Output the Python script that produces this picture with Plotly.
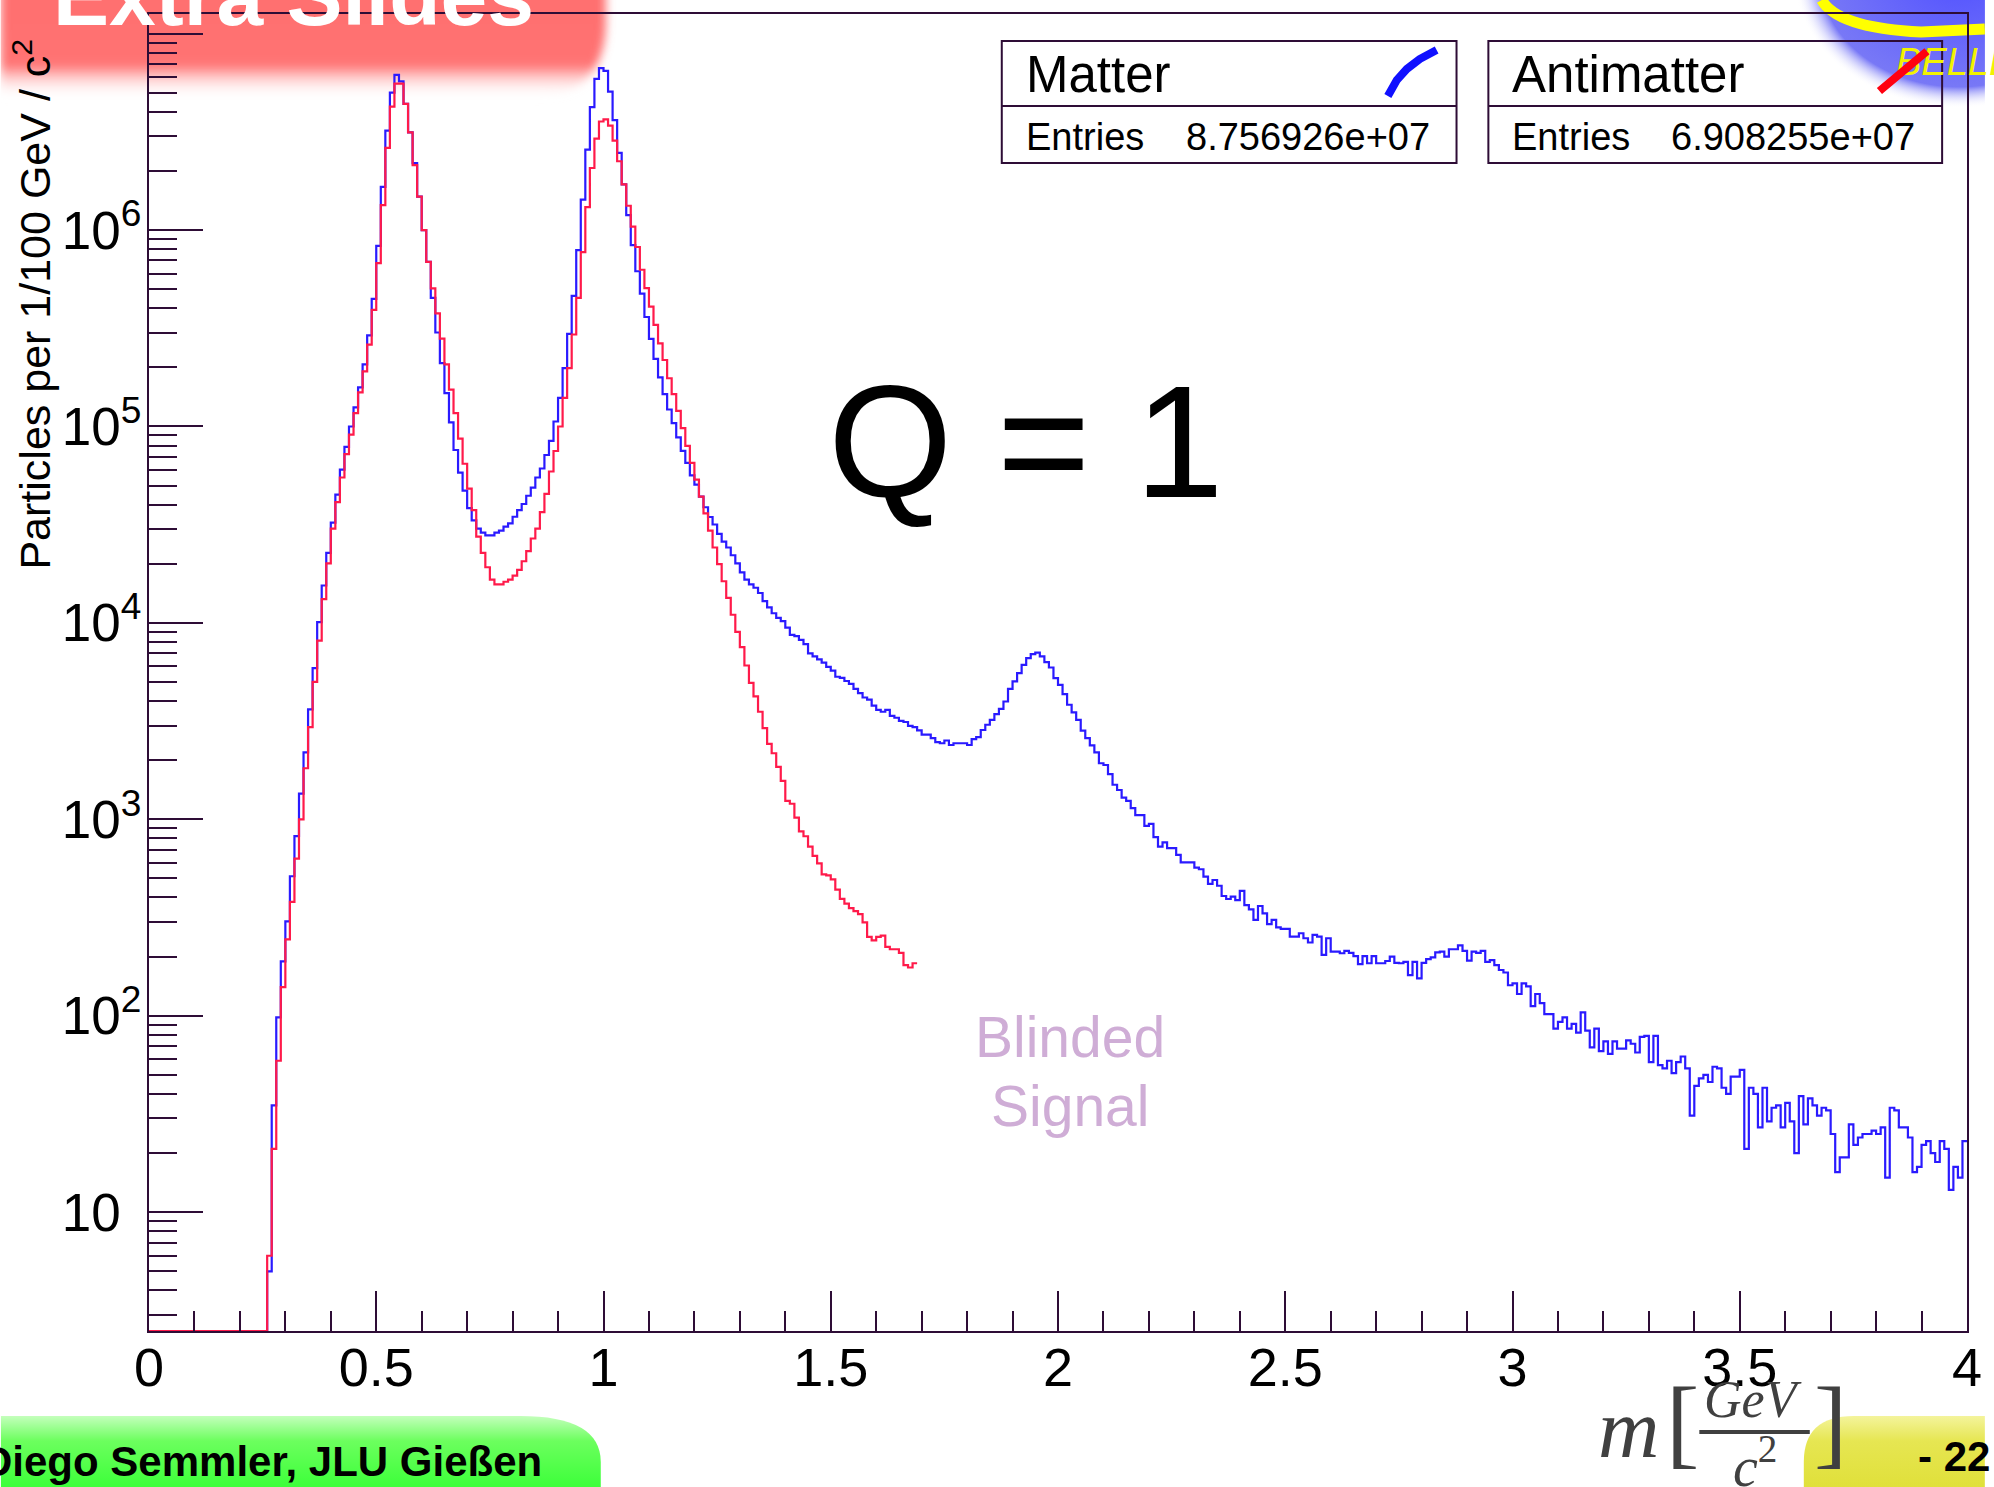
import base64
import math
import plotly.graph_objects as go

# ---------------- data ----------------
BIN_WIDTH = 0.01
X_MIN, X_MAX = 0.0, 4.0
FIRST_BIN = 0.26          # first bin with entries (both histograms)

# Matter (blue), counts per 0.01 GeV bin, bins starting at 0.26 ... 3.99
matter_counts = [
    5, 35, 98, 189,
    302, 513, 822, 1350, 2190, 3630, 5890, 10100, 15500, 22700,
    32400, 45000, 60300, 78700, 100000, 125000, 158000, 207000, 291000, 446000,
    830000, 1660000, 3210000, 5010000, 6170000, 5710000, 4390000, 3140000, 2190000, 1480000,
    1000000, 689000, 452000, 301000, 210000, 148000, 105000, 75900, 58200, 47200,
    38400, 33300, 30200, 28800, 27900, 27900, 28800, 29500, 30900, 32100,
    34700, 37500, 40300, 44400, 48800, 55000, 61100, 71600, 84500, 106000,
    140000, 198000, 296000, 462000, 791000, 1430000, 2570000, 4230000, 5890000, 6680000,
    6460000, 5070000, 3630000, 2470000, 1710000, 1190000, 839000, 617000, 475000, 361000,
    279000, 221000, 178000, 146000, 122000, 104000, 88100, 75200, 65200, 56400,
    50600, 43900, 38800, 34600, 31700, 28400, 25900, 24200, 22100, 20100,
    18100, 16600, 15700, 15100, 14200, 12900, 12000, 11200, 10600, 10200,
    9460, 8690, 8570, 8200, 7800, 7000, 6750, 6520, 6280, 5970,
    5710, 5320, 5250, 5060, 4890, 4610, 4390, 4170, 4070, 3790,
    3610, 3530, 3610, 3360, 3290, 3170, 3130, 2990, 2950, 2840,
    2700, 2700, 2590, 2470, 2440, 2520, 2390, 2440, 2440, 2440,
    2390, 2560, 2620, 2850, 3030, 3210, 3430, 3650, 3980, 4610,
    5040, 5550, 6120, 6610, 6930, 7060, 6750, 6310, 5930, 5240,
    4840, 4340, 3830, 3500, 3210, 2830, 2590, 2380, 2190, 1930,
    1890, 1700, 1500, 1410, 1290, 1240, 1140, 1050, 1050, 925,
    948, 811, 726, 764, 713, 713, 659, 604, 604, 604,
    568, 557, 511, 469, 491, 459, 407, 393, 404, 388,
    432, 366, 348, 308, 362, 332, 293, 308, 282, 277,
    277, 253, 253, 263, 248, 236, 258, 253, 204, 248,
    212, 212, 208, 214, 209, 201, 183, 201, 185, 201,
    185, 185, 190, 200, 186, 185, 188, 161, 188, 155,
    186, 194, 198, 210, 212, 200, 218, 218, 228, 214,
    191, 212, 209, 214, 188, 192, 181, 171, 166, 143,
    146, 129, 146, 141, 112, 129, 116, 102, 102, 86,
    93, 98, 86, 91, 82, 104, 84, 69, 86, 66,
    74, 64, 74, 68, 68, 75, 72, 65, 78, 79,
    58, 79, 56, 54, 59, 51, 58, 62, 54, 31,
    44, 48, 50, 46, 55, 54, 43, 40, 49, 49,
    53, 21, 43, 40, 27, 43, 29, 34, 35, 27,
    36, 29, 20, 39, 28, 38, 35, 31, 34, 33,
    25, 16, 19, 19, 28, 22, 24, 25, 25, 26,
    25, 27, 15, 34, 33, 27, 27, 24, 16, 17,
    22, 23, 20, 18, 23, 21, 13, 17, 15, 23,
]

# Antimatter (red), bins starting at 0.26 ... 1.68 (blinded above)
antimatter_counts = [
    6, 21, 59, 140,
    245, 380, 631, 1000, 1820, 2950, 5010, 8130, 13200, 20100,
    30200, 41200, 55000, 72300, 90800, 117000, 149000, 191000, 261000, 392000,
    679000, 1340000, 2620000, 4250000, 5570000, 5570000, 4390000, 3140000, 2140000, 1480000,
    1000000, 689000, 505000, 377000, 280000, 207000, 154000, 117000, 86700, 64600,
    48300, 37500, 27500, 22700, 19200, 16600, 15700, 15700, 16200, 16600,
    17400, 18600, 20600, 23200, 26900, 30200, 36600, 45400, 59000, 75000,
    100000, 140000, 198000, 294000, 452000, 773000, 1310000, 2070000, 2920000, 3570000,
    3660000, 3400000, 2850000, 2240000, 1710000, 1330000, 1040000, 820000, 628000, 506000,
    408000, 329000, 265000, 218000, 176000, 146000, 120000, 98200, 79600, 65200,
    53600, 43900, 36100, 29500, 24200, 19900, 16300, 13400, 11000, 9000,
    7520, 6070, 4950, 4230, 3530, 2910, 2420, 2170, 1850, 1570,
    1240, 1200, 1020, 869, 820, 726, 652, 597, 525, 518,
    495, 439, 394, 372, 353, 341, 329, 299, 252, 242,
    252, 256, 224, 218, 218, 209, 181, 176, 185,
]

assert len(matter_counts) == 374, len(matter_counts)
assert len(antimatter_counts) == 143, len(antimatter_counts)

series_names = ["Matter", "Antimatter"]
entries_text = ["8.756926e+07", "6.908255e+07"]

x_tick_vals = [0, 0.5, 1, 1.5, 2, 2.5, 3, 3.5, 4]
x_tick_text = ["0", "0.5", "1", "1.5", "2", "2.5", "3", "3.5", "4"]
y_tick_vals = [10, 100, 1e3, 1e4, 1e5, 1e6, 1e7]
y_tick_text = ["10<sup>\u2007</sup>", "10<sup>2</sup>", "10<sup>3</sup>", "10<sup>4</sup>",
               "10<sup>5</sup>", "10<sup>6</sup>", "10<sup>7</sup>"]
Y_LOG_RANGE = [0.395, 7.1]

# ---------------- styling ----------------
FIG_W, FIG_H = 1994, 1487
M_L, M_R, M_T, M_B = 149, 18, 14, 156
PW = FIG_W - M_L - M_R
PH = FIG_H - M_T - M_B
AX = "#2e0d36"
BLUE = "#2a1aff"
RED = "#ff1a4a"
SANS = "Liberation Sans, Arial, sans-serif"
SERIF = "Liberation Serif, Times New Roman, serif"


def xp(px):
    return (px - M_L) / PW


def yp(py):
    return (FIG_H - M_B - py) / PH


def hist_steps(counts, first_bin, floor):
    n_lead = int(round((first_bin - X_MIN) / BIN_WIDTH))
    vals = [0] * n_lead + list(counts)
    edges = [round(X_MIN + i * BIN_WIDTH, 4) for i in range(len(vals) + 1)]
    ys = [max(v, floor) for v in vals]
    ys.append(ys[-1])
    return edges, ys


floor = 10 ** Y_LOG_RANGE[0]
mx, my = hist_steps(matter_counts, FIRST_BIN, floor)
ax_, ay_ = hist_steps(antimatter_counts, FIRST_BIN, floor)

fig = go.Figure()
fig.add_trace(go.Scatter(x=mx, y=my, mode="lines", name=series_names[0],
                         line=dict(color=BLUE, width=2.2, shape="hv"), hoverinfo="skip"))
fig.add_trace(go.Scatter(x=ax_, y=ay_, mode="lines", name=series_names[1],
                         line=dict(color=RED, width=2.2, shape="hv"), hoverinfo="skip"))

minor_y = [k * 10 ** n for n in range(0, 8) for k in range(2, 10)
           if Y_LOG_RANGE[0] < math.log10(k * 10 ** n) < Y_LOG_RANGE[1]]

# ---------------- background decorations (banners, logo) ----------------
svg = f'''<svg xmlns="http://www.w3.org/2000/svg" width="{FIG_W}" height="{FIG_H}" viewBox="0 0 {FIG_W} {FIG_H}">
<defs>
<linearGradient id="rg" x1="0" y1="0" x2="0" y2="1">
<stop offset="0" stop-color="#ff6e6e"/><stop offset="0.7" stop-color="#ff7373"/>
<stop offset="1" stop-color="#ffffff" stop-opacity="0"/></linearGradient>
<filter id="bl" x="-10%" y="-20%" width="120%" height="140%"><feGaussianBlur stdDeviation="5"/></filter>
<linearGradient id="gg" x1="0" y1="0" x2="0" y2="1">
<stop offset="0" stop-color="#c4ffbc"/><stop offset="0.35" stop-color="#6cff5e"/>
<stop offset="1" stop-color="#3dff3a"/></linearGradient>
<linearGradient id="yg" x1="0" y1="0" x2="0" y2="1">
<stop offset="0" stop-color="#f4f49c"/><stop offset="0.35" stop-color="#e6e652"/>
<stop offset="1" stop-color="#e0e03a"/></linearGradient>
<radialGradient id="bg" cx="0.5" cy="0.5" r="0.5">
<stop offset="0" stop-color="#5252ff"/><stop offset="0.84" stop-color="#7878f6"/>
<stop offset="1" stop-color="#ffffff" stop-opacity="0"/></radialGradient>
</defs>
<path d="M0,-12 H608 V22 Q608,98 528,98 H0 Z" fill="url(#rg)" filter="url(#bl)"/>
<ellipse cx="1968" cy="-24" rx="166" ry="132" fill="url(#bg)"/>
<path d="M1830,0 Q1846,28 1930,32 L1994,29" stroke="#ffff00" stroke-width="11" fill="none"/>
<path d="M0,1416 H522 Q603,1416 603,1462 V1487 H0 Z" fill="url(#gg)"/>
<path d="M1994,1416 H1862 Q1812,1416 1812,1462 V1487 H1994 Z" fill="url(#yg)"/>
</svg>'''
svg_src = "data:image/svg+xml;base64," + base64.b64encode(svg.encode("utf-8")).decode("ascii")

# ---------------- annotations ----------------
ann = []


def text(s, px, py, size, color="black", family=SANS, xanchor="center", angle=0):
    ann.append(dict(text=s, x=xp(px), y=yp(py), xref="paper", yref="paper",
                    xanchor=xanchor, yanchor="middle", showarrow=False,
                    textangle=angle, font=dict(family=family, size=size, color=color)))


text("<b>Extra Slides</b>", 51, -4, 84, color="white", xanchor="left")
text("Particles per 1/100 GeV / c<sup>2</sup>", 31, 304, 43, angle=-90)
text("Q = 1", 1030, 441, 160)
text("Blinded", 1075, 1037, 57, color="#cfadd6")
text("Signal", 1075, 1106, 57, color="#cfadd6")
# stat boxes
box_left = [1006, 1495]
box_right = [1463, 1951]
for i in range(2):
    text(series_names[i], box_left[i] + 22, 75, 51, xanchor="left")
    text("Entries", box_left[i] + 22, 137, 38, xanchor="left")
    text(entries_text[i], box_right[i] - 25, 137, 38, xanchor="right")
text("<i>BELLE</i>", 1903, 62, 38, color="#f2f200", xanchor="left")
# red legend glyph drawn on top of the logo lettering
ann.append(dict(text="", x=xp(1888), y=yp(91), xref="paper", yref="paper",
                showarrow=True, arrowhead=0, arrowwidth=8, arrowcolor="#ff0010",
                ax=49, ay=-41, axref="pixel", ayref="pixel", standoff=0, startstandoff=0))
# x title
text("<i>m</i>", 1636, 1428, 85, color="#404040", family=SERIF)
text("[", 1690, 1422, 100, color="#404040", family=SERIF)
text("]", 1839, 1422, 100, color="#404040", family=SERIF)
text("<i>GeV</i>", 1761, 1399, 52, color="#404040", family=SERIF)
text("<i>c</i><sup>2</sup>", 1763, 1463, 56, color="#404040", family=SERIF)
# footers
text("<b>Diego Semmler, JLU Gießen</b>", 546, 1461, 42, xanchor="right")
text("<b>- 22</b>", 1925, 1457, 42, xanchor="left")

# ---------------- shapes ----------------
shapes = []
for i in range(2):
    shapes.append(dict(type="rect", xref="paper", yref="paper",
                       x0=xp(box_left[i]), x1=xp(box_right[i]), y0=yp(163), y1=yp(41),
                       line=dict(color=AX, width=2), fillcolor="rgba(0,0,0,0)"))
    shapes.append(dict(type="line", xref="paper", yref="paper",
                       x0=xp(box_left[i]), x1=xp(box_right[i]), y0=yp(106), y1=yp(106),
                       line=dict(color=AX, width=2)))


def ppath(pts):
    return "M" + " L".join(f"{xp(a):.5f},{yp(b):.5f}" for a, b in pts)


shapes.append(dict(type="path", xref="paper", yref="paper",
                   path=ppath([(1394, 96), (1403, 80), (1413, 69), (1426, 59), (1443, 50)]),
                   line=dict(color="#1010ff", width=8)))
# fraction bar of axis title
shapes.append(dict(type="line", xref="paper", yref="paper",
                   x0=xp(1707), x1=xp(1818), y0=yp(1432), y1=yp(1432),
                   line=dict(color="#404040", width=4)))

fig.update_layout(
    width=FIG_W, height=FIG_H, autosize=False,
    margin=dict(l=M_L, r=M_R, t=M_T, b=M_B, pad=0),
    paper_bgcolor="white", plot_bgcolor="rgba(0,0,0,0)",
    showlegend=False,
    xaxis=dict(range=[X_MIN, X_MAX], showline=True, linecolor=AX, linewidth=2, mirror=True,
               ticks="inside", ticklen=40, tickwidth=2, tickcolor=AX,
               tickmode="array", tickvals=x_tick_vals, ticktext=x_tick_text,
               tickfont=dict(family=SANS, size=54, color="black"),
               showgrid=False, zeroline=False, ticklabelstandoff=-12,
               minor=dict(ticks="inside", ticklen=20, tickwidth=2, tickcolor=AX,
                          dtick=0.1, tick0=0, showgrid=False)),
    yaxis=dict(type="log", range=Y_LOG_RANGE, showline=True, linecolor=AX, linewidth=2,
               mirror=True, ticks="inside", ticklen=54, tickwidth=2, tickcolor=AX,
               tickmode="array", tickvals=y_tick_vals, ticktext=y_tick_text,
               tickfont=dict(family=SANS, size=53, color="black"),
               showgrid=False, zeroline=False, ticklabelstandoff=-5,
               minor=dict(ticks="inside", ticklen=28, tickwidth=2, tickcolor=AX,
                          tickmode="array", tickvals=minor_y, showgrid=False)),
    images=[dict(source=svg_src, xref="paper", yref="paper", x=xp(0), y=yp(0),
                 sizex=FIG_W / PW, sizey=FIG_H / PH, xanchor="left", yanchor="top",
                 sizing="stretch", layer="below")],
    annotations=ann,
    shapes=shapes,
)

fig.write_html("out.html", config={"displayModeBar": False})
